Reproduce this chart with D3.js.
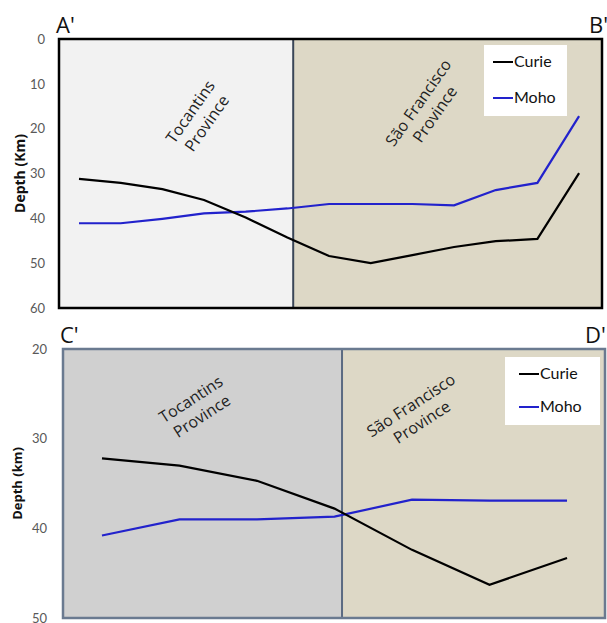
<!DOCTYPE html>
<html>
<head>
<meta charset="utf-8">
<script src="https://cdn.jsdelivr.net/npm/d3@7"></script>
<style>
  body { margin: 0; background: #fff; }
  svg { display: block; }
</style>
</head>
<body>
<svg id="chart" width="607" height="623"></svg>
<script>
// profile A'-B' (points along the profile)
const topStations = [0, 1, 2, 3, 4, 5, 6, 7, 8, 9, 10, 11, 12];
const topCurie = [31.2, 32.1, 33.5, 35.9, 39.8, 44.3, 48.4, 50.0, 48.2, 46.4, 45.1, 44.6, 29.9];
const topMoho = [41.1, 41.1, 40.1, 38.9, 38.5, 37.8, 36.8, 36.8, 36.8, 37.1, 33.7, 32.1, 17.2];
const topTicks = [0, 10, 20, 30, 40, 50, 60];

// profile C'-D'
const bottomStations = [0, 1, 2, 3, 4, 5, 6];
const bottomCurie = [32.2, 33.0, 34.7, 37.8, 42.4, 46.3, 43.3];
const bottomMoho = [40.8, 39.0, 39.0, 38.7, 36.8, 36.9, 36.9];
const bottomTicks = [20, 30, 40, 50];

const svg = d3.select('#chart');

function drawPanel(p) {
    var x = d3.scaleLinear().domain(p.xDomain).range([p.left, p.right]);
    var y = d3.scaleLinear().domain([p.ticks[0], p.ticks[p.ticks.length - 1]]).range([p.top, p.bottom]);
    var g = svg.append('g');

    // province backgrounds
    g.append('rect')
        .attr('x', x(p.xDomain[0])).attr('y', y.range()[0])
        .attr('width', x(p.split) - x(p.xDomain[0]))
        .attr('height', y.range()[1] - y.range()[0])
        .attr('fill', p.leftFill);
    g.append('rect')
        .attr('x', x(p.split)).attr('y', y.range()[0])
        .attr('width', x(p.xDomain[1]) - x(p.split))
        .attr('height', y.range()[1] - y.range()[0])
        .attr('fill', p.rightFill);

    g.append('line')
        .attr('x1', x(p.split)).attr('x2', x(p.split))
        .attr('y1', p.top).attr('y2', p.bottom)
        .attr('stroke', p.splitColor).attr('stroke-width', 2);

    // frame
    g.append('rect')
        .attr('x', p.left).attr('y', p.top)
        .attr('width', p.right - p.left).attr('height', p.bottom - p.top)
        .attr('fill', 'none')
        .attr('stroke', p.frameColor)
        .attr('stroke-width', p.frameWidth);

    // y axis ticks (labels only)
    var yAxis = g.append('g')
        .attr('transform', `translate(${p.tickX},0)`)
        .call(d3.axisLeft(y).tickValues(p.ticks).tickSize(0).tickPadding(0));
    yAxis.select('.domain').remove();
    yAxis.selectAll('text')
        .style('font', '13px Lato, "Open Sans", sans-serif')
        .attr('fill', '#595959');

    g.append('text')
        .attr('transform', `translate(${p.labelX},${(p.top + p.bottom) / 2}) rotate(-90)`)
        .attr('text-anchor', 'middle')
        .style('font', `bold ${p.labelSize}px "Open Sans", sans-serif`)
        .attr('fill', '#111')
        .text(p.yLabel);

    // lines
    var line = d3.line()
        .x((d, i) => x(p.stations[i]))
        .y(d => y(d));

    g.append('path')
        .datum(p.moho)
        .attr('d', line)
        .attr('fill', 'none')
        .attr('stroke', '#2222cc')
        .attr('stroke-width', 2.2);
    g.append('path')
        .datum(p.curie)
        .attr('d', line)
        .attr('fill', 'none')
        .attr('stroke', '#000')
        .attr('stroke-width', 2.2);

    // province names
    p.provinces.forEach(function (pr) {
        var t = g.append('text')
            .attr('transform', `translate(${pr.x},${pr.y}) rotate(${p.angle})`)
            .attr('text-anchor', 'middle')
            .style('font', '16px "Open Sans", sans-serif')
            .attr('fill', '#222');
        t.append('tspan').attr('x', 0).attr('dy', 0).text(pr.lines[0]);
        t.append('tspan').attr('x', 0).attr('dy', 20).text(pr.lines[1]);
    });

    // section end labels
    g.append('text')
        .attr('x', p.left - 3).attr('y', p.top - 6)
        .style('font', '22px "Open Sans", sans-serif')
        .attr('fill', '#111')
        .text(p.ends[0]);
    g.append('text')
        .attr('x', p.endRightX).attr('y', p.top - 6)
        .style('font', '22px "Open Sans", sans-serif')
        .attr('fill', '#111')
        .text(p.ends[1]);

    // legend
    var lg = g.append('g').attr('transform', `translate(${p.legend.x},${p.legend.y})`);
    lg.append('rect')
        .attr('width', p.legend.w).attr('height', p.legend.h)
        .attr('fill', '#fff');
    [['Curie', '#000'], ['Moho', '#2222cc']].forEach(function (item, i) {
        var yy = p.legend.row0 + i * p.legend.gap;
        lg.append('line')
            .attr('x1', p.legend.lx).attr('x2', p.legend.lx + 20)
            .attr('y1', yy).attr('y2', yy)
            .attr('stroke', item[1]).attr('stroke-width', 2);
        lg.append('text')
            .attr('x', p.legend.lx + 21).attr('y', yy + 5)
            .style('font', '16px Lato, "Open Sans", sans-serif')
            .attr('fill', '#111')
            .text(item[0]);
    });
}

drawPanel({
    stations: topStations, curie: topCurie, moho: topMoho, ticks: topTicks,
    xDomain: [-0.48, 12.55], split: 5.14,
    left: 59, right: 602, top: 39, bottom: 308,
    leftFill: '#f2f2f2', rightFill: '#ddd8c6',
    splitColor: '#3a4658', frameColor: '#000', frameWidth: 2.5,
    tickX: 45, labelX: 25, labelSize: 14, yLabel: 'Depth (Km)',
    angle: -55,
    provinces: [
        { x: 195, y: 115, lines: ['Tocantins', 'Province'] },
        { x: 423, y: 106, lines: ['São Francisco', 'Province'] }
    ],
    ends: ["A'", "B'"], endRightX: 589,
    legend: { x: 484, y: 45, w: 83, h: 71, lx: 9, row0: 17, gap: 36 }
});

drawPanel({
    stations: bottomStations, curie: bottomCurie, moho: bottomMoho, ticks: bottomTicks,
    xDomain: [-0.503, 6.49], split: 3.097,
    left: 63, right: 605, top: 349, bottom: 618,
    leftFill: '#d0d0d0', rightFill: '#ddd8c6',
    splitColor: '#5b6b82', frameColor: '#6a7a90', frameWidth: 2.5,
    tickX: 47, labelX: 22, labelSize: 13, yLabel: 'Depth (km)',
    angle: -33,
    provinces: [
        { x: 194, y: 404, lines: ['Tocantins', 'Province'] },
        { x: 414, y: 410, lines: ['São Francisco', 'Province'] }
    ],
    ends: ["C'", "D'"], endRightX: 585,
    legend: { x: 505, y: 357, w: 95, h: 68, lx: 14, row0: 17, gap: 33 }
});
</script>
</body>
</html>
